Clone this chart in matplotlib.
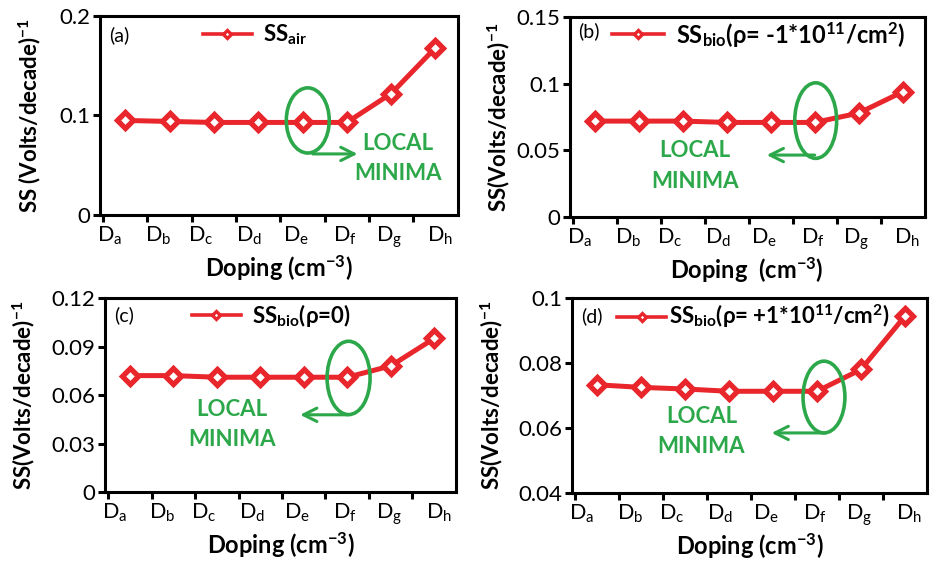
import matplotlib
matplotlib.use("Agg")
import matplotlib.pyplot as plt
from matplotlib.patches import Ellipse
from matplotlib.lines import Line2D

plt.rcParams['font.family'] = ['Lato', 'DejaVu Sans']
plt.rcParams['mathtext.fontset'] = 'custom'
plt.rcParams['mathtext.rm'] = 'Lato'
plt.rcParams['mathtext.it'] = 'Lato:italic'
plt.rcParams['mathtext.bf'] = 'Lato:bold'

doping_labels = ['a', 'b', 'c', 'd', 'e', 'f', 'g', 'h']
ss_air = [0.095, 0.094, 0.093, 0.093, 0.093, 0.093, 0.122, 0.168]
ss_bio_neg = [0.072, 0.072, 0.072, 0.071, 0.071, 0.071, 0.078, 0.094]
ss_bio_zero = [0.072, 0.072, 0.071, 0.071, 0.071, 0.071, 0.078, 0.095]
ss_bio_pos = [0.0733, 0.0725, 0.072, 0.0713, 0.0713, 0.0713, 0.078, 0.0944]

RED = '#e8262b'
GREEN = '#2ca84a'

fig = plt.figure(figsize=(9.34, 5.66), dpi=100)

panels = [
    dict(rect=[0.107, 0.620, 0.383, 0.352], y=ss_air, ylim=(0, 0.2),
         yticks=[0, 0.1, 0.2], yfmt=['0', '0.1', '0.2'], tag='(a)',
         label=r'SS$_{\mathbf{air}}$', leg=(0.288, 0.905), lfs=16, htp=0.5,
         ylabel=r'SS (Volts/decade)$^{\mathbf{-1}}$', xlabel=r'Doping (cm$^{\mathbf{-3}}$)',
         ell=(0.581, 0.475, 0.12, 0.327), arr=((0.595, 0.307), (0.72, 0.307)),
         txt=(0.832, 0.357, 0.211), tagy=0.905, ylc=-0.16),
    dict(rect=[0.610, 0.6166, 0.380, 0.353], y=ss_bio_neg, ylim=(0, 0.15),
         yticks=[0, 0.05, 0.1, 0.15], yfmt=['0', '0.05', '0.1', '0.15'], tag='(b)',
         label=r'SS$_{\mathbf{bio}}$(ρ= -1*10$^{\mathbf{11}}$/cm$^{\mathbf{2}}$)',
         leg=(0.12, 0.915), lfs=17, htp=0.5,
         ylabel=r'SS(Volts/decade)$^{\mathbf{-1}}$', xlabel=r'Doping  (cm$^{\mathbf{-3}}$)',
         ell=(0.693, 0.4825, 0.118, 0.378), arr=((0.69, 0.31), (0.555, 0.31)),
         txt=(0.352, 0.335, 0.176), tagy=0.93, ylc=-0.163),
    dict(rect=[0.1124, 0.1307, 0.3758, 0.3428], y=ss_bio_zero, ylim=(0, 0.12),
         yticks=[0, 0.03, 0.06, 0.09, 0.12], yfmt=['0', '0.03', '0.06', '0.09', '0.12'], tag='(c)',
         label=r'SS$_{\mathbf{bio}}$(ρ=0)', leg=(0.248, 0.91), lfs=16, htp=0.5,
         ylabel=r'SS(Volts/decade)$^{\mathbf{-1}}$', xlabel=r'Doping (cm$^{\mathbf{-3}}$)',
         ell=(0.694, 0.588, 0.1225, 0.378), arr=((0.692, 0.398), (0.556, 0.398)),
         txt=(0.361, 0.424, 0.27), tagy=0.91, ylc=-0.194),
    dict(rect=[0.6124, 0.129, 0.380, 0.3445], y=ss_bio_pos, ylim=(0.04, 0.1),
         yticks=[0.04, 0.06, 0.08, 0.1], yfmt=['0.04', '0.06', '0.08', '0.1'], tag='(d)',
         label=r'SS$_{\mathbf{bio}}$(ρ= +1*10$^{\mathbf{11}}$/cm$^{\mathbf{2}}$)',
         leg=(0.127, 0.905), lfs=16, htp=0.15,
         ylabel=r'SS(Volts/decade)$^{\mathbf{-1}}$', xlabel=r'Doping (cm$^{\mathbf{-3}}$)',
         ell=(0.71, 0.492, 0.118, 0.368), arr=((0.713, 0.308), (0.5625, 0.308)),
         txt=(0.365, 0.393, 0.24), tagy=0.905, ylc=-0.189),
]

label_pos = [0.15, 1.25, 2.2, 3.3, 4.35, 5.45, 6.45, 7.6]
x = [i + 0.5 for i in range(len(doping_labels))]

for p in panels:
    ax = fig.add_axes(p['rect'])
    ax.plot(x, p['y'], color=RED, lw=3.6, marker='D', markersize=8,
            markerfacecolor='white', markeredgecolor=RED, markeredgewidth=3.8,
            solid_joinstyle='round')
    ax.set_xlim(-0.07, 8)
    ax.set_ylim(*p['ylim'])
    ax.set_xticks(range(8))
    ax.set_xticklabels([])
    ax.set_xticks(label_pos, minor=True)
    ax.set_xticklabels([r'D$_{\mathrm{%s}}$' % s for s in doping_labels], minor=True)
    ax.tick_params(axis='x', which='minor', length=0, pad=7, labelsize=15.5)
    ax.tick_params(axis='x', which='major', direction='out', length=5, width=2.2)
    ax.set_yticks(p['yticks'])
    ax.set_yticklabels(p['yfmt'])
    ax.tick_params(axis='y', direction='out', length=5, width=2.2, labelsize=16, pad=2)
    for s in ax.spines.values():
        s.set_linewidth(2.2)
    ax.set_ylabel(p['ylabel'], fontsize=16, fontweight='bold')
    ax.yaxis.set_label_coords(p['ylc'], 0.5)
    ax.set_xlabel(p['xlabel'], fontsize=17, fontweight='bold', labelpad=2)
    ax.text(0.025, p['tagy'], p['tag'], transform=ax.transAxes, fontsize=14,
            va='center', ha='left')
    h = Line2D([], [], color=RED, lw=2.6, marker='D', markersize=4.5,
               markerfacecolor='white', markeredgecolor=RED, markeredgewidth=2.4)
    ax.legend([h], [p['label']], loc='center left', bbox_to_anchor=p['leg'],
              frameon=False, borderpad=0, borderaxespad=0, handlelength=2.2,
              handletextpad=p['htp'], prop=dict(size=p['lfs'], weight='bold'))
    cx, cy, w, hh = p['ell']
    ax.add_patch(Ellipse((cx, cy), w, hh, transform=ax.transAxes, fill=False,
                         edgecolor=GREEN, lw=2.6, zorder=5))
    (sx, sy), (ex, ey) = p['arr']
    ax.annotate('', xy=(ex, ey), xytext=(sx, sy), xycoords='axes fraction',
                textcoords='axes fraction',
                arrowprops=dict(arrowstyle='->', color=GREEN, lw=2.2, mutation_scale=24,
                                shrinkA=0, shrinkB=0))
    tx, ty1, ty2 = p['txt']
    ax.text(tx, ty1, 'LOCAL', transform=ax.transAxes, color=GREEN, fontsize=16,
            fontweight='bold', ha='center', va='center')
    ax.text(tx, ty2, 'MINIMA', transform=ax.transAxes, color=GREEN, fontsize=16,
            fontweight='bold', ha='center', va='center')

fig.savefig('out.png', dpi=100)
